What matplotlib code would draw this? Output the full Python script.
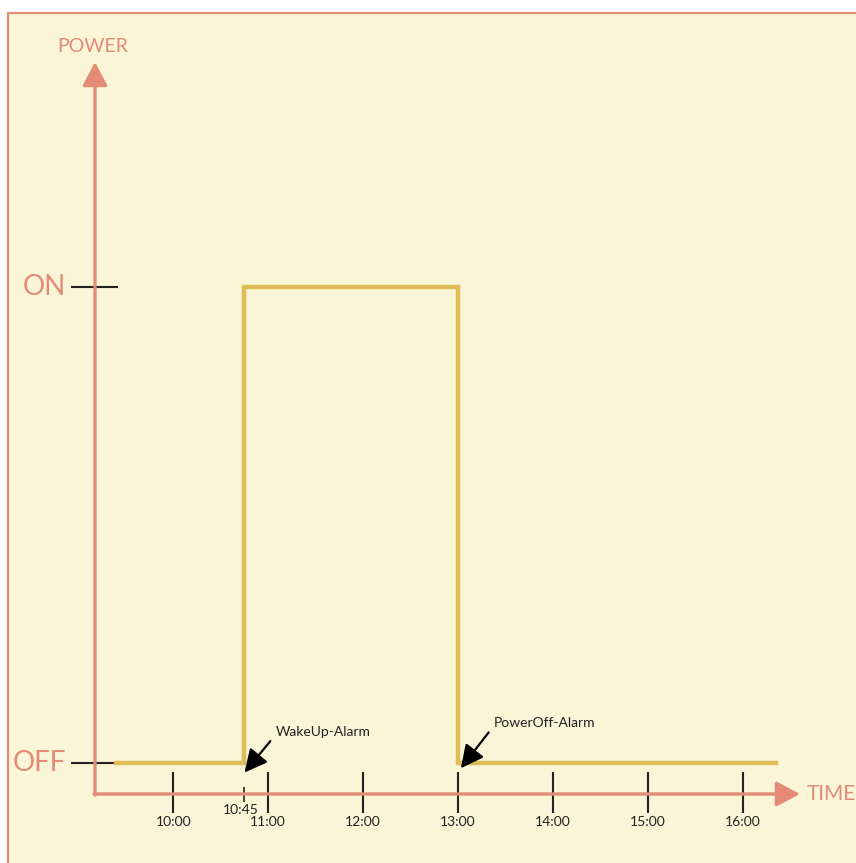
import matplotlib.pyplot as plt
from matplotlib.patches import Rectangle
from matplotlib.transforms import blended_transform_factory

plt.rcParams["font.family"] = ["Lato", "DejaVu Sans"]

W, H = 856, 863

# ---- data ----
tick_hours = [10, 11, 12, 13, 14, 15, 16]
tick_labels = ["10:00", "11:00", "12:00", "13:00", "14:00", "15:00", "16:00"]
wake_hour = 10.75
wake_label = "10:45"
off_hour = 13.0
trace_hours = [9.4, wake_hour, off_hour, 16.35]
trace_state = [0, 1, 0, 0]
state_values = [0, 1]
state_labels = ["OFF", "ON"]

SALMON = "#E38B76"
YELLOW = "#DFBC55"
BG = "#FAF5D7"
INK = "#222222"


def fx(px):
    return px / W


def fy(py):
    return 1 - py / H


fig = plt.figure(figsize=(W / 100, H / 100), dpi=100)
fig.patch.set_facecolor("white")

# cream panel with salmon border (cropped on right/bottom)
fig.patches.append(Rectangle((fx(8), fy(H + 20)), fx(W + 20) - fx(8), fy(13) - fy(H + 20),
                             transform=fig.transFigure, facecolor=BG,
                             edgecolor=SALMON, lw=1.6, zorder=-5))

ax = fig.add_axes([0, 0, 1, 1])
ax.set_axis_off()
ax.patch.set_alpha(0)

# x axis: 94.9 px per hour, 13:00 at px 458 ; y: OFF at px 763, ON at px 287
ax.set_xlim(13 - 458 / 94.9, 13 + (W - 458) / 94.9)
ax.set_ylim((763 - H) / 476, 763 / 476)

xf = blended_transform_factory(ax.transData, fig.transFigure)
yf = blended_transform_factory(fig.transFigure, ax.transData)

# axis arrows
arrow_kw = dict(arrowstyle="-|>,head_length=0.72,head_width=0.38", color=SALMON,
                lw=2.4, mutation_scale=20, shrinkA=0, shrinkB=0)
ax.annotate("", xy=(fx(95), fy(62)), xytext=(fx(95), fy(795)),
            xycoords="figure fraction", arrowprops=arrow_kw)
ax.annotate("", xy=(fx(800), fy(794)), xytext=(fx(94), fy(794)),
            xycoords="figure fraction", arrowprops=arrow_kw)
ax.text(fx(93), fy(47), "POWER", transform=fig.transFigure, color=SALMON,
        fontsize=14, ha="center", va="center")
ax.text(fx(807), fy(794), "TIME", transform=fig.transFigure, color=SALMON,
        fontsize=15, ha="left", va="center")

# state levels
for v, lab in zip(state_values, state_labels):
    ax.plot([fx(72), fx(117)], [v, v], transform=yf, color=INK, lw=1.5)
    ax.text(fx(66), v, lab, transform=yf, color=SALMON, fontsize=20,
            ha="right", va="center")

# power trace
ax.plot(trace_hours, trace_state, drawstyle="steps-post", color=YELLOW, lw=3.2,
        solid_joinstyle="miter", zorder=3)

# time ticks
ax.vlines(tick_hours, fy(813), fy(772), transform=xf, color=INK, lw=1.5)
for h, lab in zip(tick_hours, tick_labels):
    ax.text(h, fy(822), lab, transform=xf, fontsize=10, ha="center", va="center",
            color=INK)
ax.vlines([wake_hour], fy(802), fy(787), transform=xf, color=INK, lw=1.2)
ax.text(wake_hour - 0.04, fy(810), wake_label, transform=xf, fontsize=10,
        ha="center", va="center", color=INK)

# alarm annotations
alarm_kw = dict(arrowstyle="-|>,head_length=0.7,head_width=0.35", color="black",
                lw=1.6, mutation_scale=20, shrinkA=3, shrinkB=0, relpos=(0, 0.3))
ax.annotate("WakeUp-Alarm", xy=(wake_hour, -0.02), xytext=(wake_hour + 0.33, 0.065),
            fontsize=10, ha="left", va="center", color=INK, arrowprops=alarm_kw)
ax.annotate("PowerOff-Alarm", xy=(off_hour + 0.03, -0.011), xytext=(off_hour + 0.38, 0.084),
            fontsize=10, ha="left", va="center", color=INK, arrowprops=alarm_kw)

fig.savefig("out.png", dpi=100, facecolor=fig.get_facecolor())
